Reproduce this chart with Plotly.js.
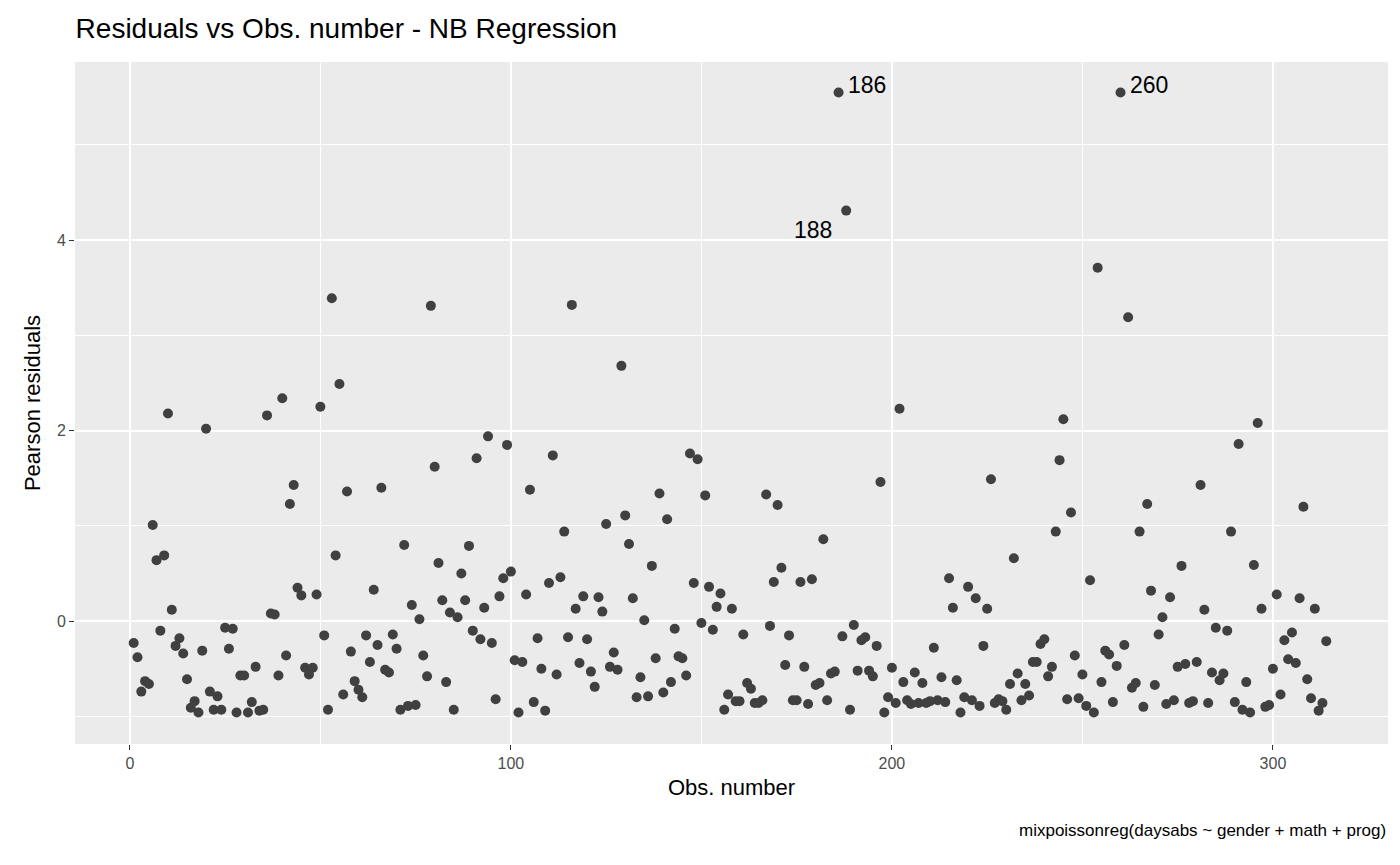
<!DOCTYPE html>
<html>
<head>
<meta charset="utf-8">
<script src="https://cdn.plot.ly/plotly-3.0.1.min.js"></script>
<style>body{margin:0;background:#fff;} #chart{width:1400px;height:865px;}</style>
</head>
<body>
<div id="chart"></div>
<script>
// Pearson residuals, one per observation (1..314)
var residuals = [
 -0.23,-0.38,-0.74,-0.63,-0.66,1.01,0.64,-0.10,0.69,2.18,
 0.12,-0.26,-0.18,-0.34,-0.61,-0.91,-0.84,-0.96,-0.31,2.02,
 -0.74,-0.93,-0.79,-0.93,-0.07,-0.29,-0.08,-0.96,-0.57,-0.57,
 -0.96,-0.85,-0.48,-0.94,-0.93,2.16,0.08,0.07,-0.57,2.34,
 -0.36,1.23,1.43,0.35,0.27,-0.49,-0.56,-0.49,0.28,2.25,
 -0.15,-0.93,3.39,0.69,2.49,-0.77,1.36,-0.32,-0.63,-0.72,
 -0.80,-0.15,-0.43,0.33,-0.25,1.40,-0.51,-0.54,-0.14,-0.29,
 -0.93,0.80,-0.89,0.17,-0.88,0.02,-0.36,-0.58,3.31,1.62,
 0.61,0.22,-0.64,0.09,-0.93,0.04,0.50,0.22,0.79,-0.10,
 1.71,-0.19,0.14,1.94,-0.23,-0.82,0.26,0.45,1.85,0.52,
 -0.41,-0.96,-0.43,0.28,1.38,-0.85,-0.18,-0.50,-0.94,0.40,
 1.74,-0.56,0.46,0.94,-0.17,3.32,0.13,-0.44,0.26,-0.19,
 -0.53,-0.69,0.25,0.10,1.02,-0.48,-0.33,-0.51,2.68,1.11,
 0.81,0.24,-0.80,-0.59,0.01,-0.79,0.58,-0.39,1.34,-0.75,
 1.07,-0.64,-0.08,-0.37,-0.39,-0.57,1.76,0.40,1.70,-0.02,
 1.32,0.36,-0.09,0.15,0.29,-0.93,-0.77,0.13,-0.84,-0.84,
 -0.14,-0.65,-0.71,-0.86,-0.86,-0.83,1.33,-0.05,0.41,1.22,
 0.56,-0.46,-0.15,-0.83,-0.83,0.41,-0.48,-0.87,0.44,-0.67,
 -0.65,0.86,-0.83,-0.55,-0.53,5.55,-0.16,4.31,-0.93,-0.04,
 -0.52,-0.20,-0.17,-0.52,-0.58,-0.26,1.46,-0.96,-0.80,-0.49,
 -0.86,2.23,-0.64,-0.83,-0.87,-0.54,-0.86,-0.65,-0.86,-0.84,
 -0.28,-0.83,-0.59,-0.85,0.45,0.14,-0.62,-0.96,-0.80,0.36,
 -0.83,0.24,-0.89,-0.26,0.13,1.49,-0.86,-0.82,-0.84,-0.93,
 -0.66,0.66,-0.55,-0.83,-0.66,-0.78,-0.43,-0.43,-0.24,-0.19,
 -0.58,-0.48,0.94,1.69,2.12,-0.82,1.14,-0.36,-0.81,-0.56,
 -0.89,0.43,-0.96,3.71,-0.64,-0.31,-0.35,-0.85,-0.47,5.55,
 -0.25,3.19,-0.70,-0.65,0.94,-0.90,1.23,0.32,-0.67,-0.14,
 0.04,-0.87,0.25,-0.83,-0.48,0.58,-0.45,-0.86,-0.84,-0.43,
 1.43,0.12,-0.86,-0.54,-0.07,-0.62,-0.55,-0.10,0.94,-0.85,
 1.86,-0.93,-0.64,-0.96,0.59,2.08,0.13,-0.90,-0.88,-0.50,
 0.28,-0.77,-0.20,-0.40,-0.12,-0.44,0.24,1.20,-0.61,-0.81,
 0.13,-0.94,-0.86,-0.21
];
var obsNumber = residuals.map(function(v, i){ return i + 1; });
var labelledObs = [186, 188, 260];
var fontFam = 'Liberation Sans, Arial, sans-serif';

var trace = {
  x: obsNumber,
  y: residuals,
  type: 'scatter',
  mode: 'markers',
  marker: {color: '#404040', size: 10},
  hoverinfo: 'x+y'
};

var annotations = labelledObs.map(function(n){
  var left = (n === 188);
  return {
    x: n, y: residuals[n - 1], xref: 'x', yref: 'y',
    text: String(n), showarrow: false,
    xanchor: left ? 'right' : 'left',
    yanchor: left ? 'top' : 'bottom',
    xshift: left ? -12 : 7, yshift: left ? -4 : -8,
    font: {family: fontFam, size: 23, color: '#000'}
  };
});
annotations.push({
  xref: 'paper', yref: 'paper', x: 1, y: -0.11, xanchor: 'right', yanchor: 'top',
  text: 'mixpoissonreg(daysabs ~ gender + math + prog)', showarrow: false,
  font: {family: fontFam, size: 17, color: '#000'}
});

var axisBase = {
  showline: false, zeroline: false,
  gridcolor: '#ffffff', gridwidth: 1.6,
  ticks: 'outside', ticklen: 5, tickcolor: '#333333',
  tickfont: {family: fontFam, size: 16, color: '#4d4d4d'}
};

var layout = {
  width: 1400, height: 865,
  margin: {l: 75, r: 12, t: 62, b: 121},
  paper_bgcolor: '#ffffff',
  plot_bgcolor: '#ebebeb',
  showlegend: false,
  title: {
    text: 'Residuals vs Obs. number - NB Regression',
    x: 0.054, xanchor: 'left', y: 0.967, yanchor: 'middle',
    font: {family: fontFam, size: 28, color: '#000'}
  },
  xaxis: Object.assign({}, axisBase, {
    range: [-14.4, 330.2], tickvals: [0, 100, 200, 300],
    minor: {showgrid: true, gridcolor: '#ffffff', gridwidth: 0.7, tickvals: [50, 150, 250]},
    title: {text: 'Obs. number', standoff: 8, font: {family: fontFam, size: 22, color: '#000'}}
  }),
  yaxis: Object.assign({}, axisBase, {
    range: [-1.29, 5.87], tickvals: [0, 2, 4],
    minor: {showgrid: true, gridcolor: '#ffffff', gridwidth: 0.7, tickvals: [-1, 1, 3, 5]},
    title: {text: 'Pearson residuals', standoff: 10, font: {family: fontFam, size: 22, color: '#000'}}
  }),
  shapes: [{
    type: 'line', xref: 'paper', x0: 0, x1: 1, yref: 'y', y0: 0, y1: 0,
    line: {color: '#999999', width: 1, dash: 'dash'}, layer: 'below'
  }],
  annotations: annotations
};

Plotly.newPlot('chart', [trace], layout, {displayModeBar: false});
</script>
</body>
</html>
